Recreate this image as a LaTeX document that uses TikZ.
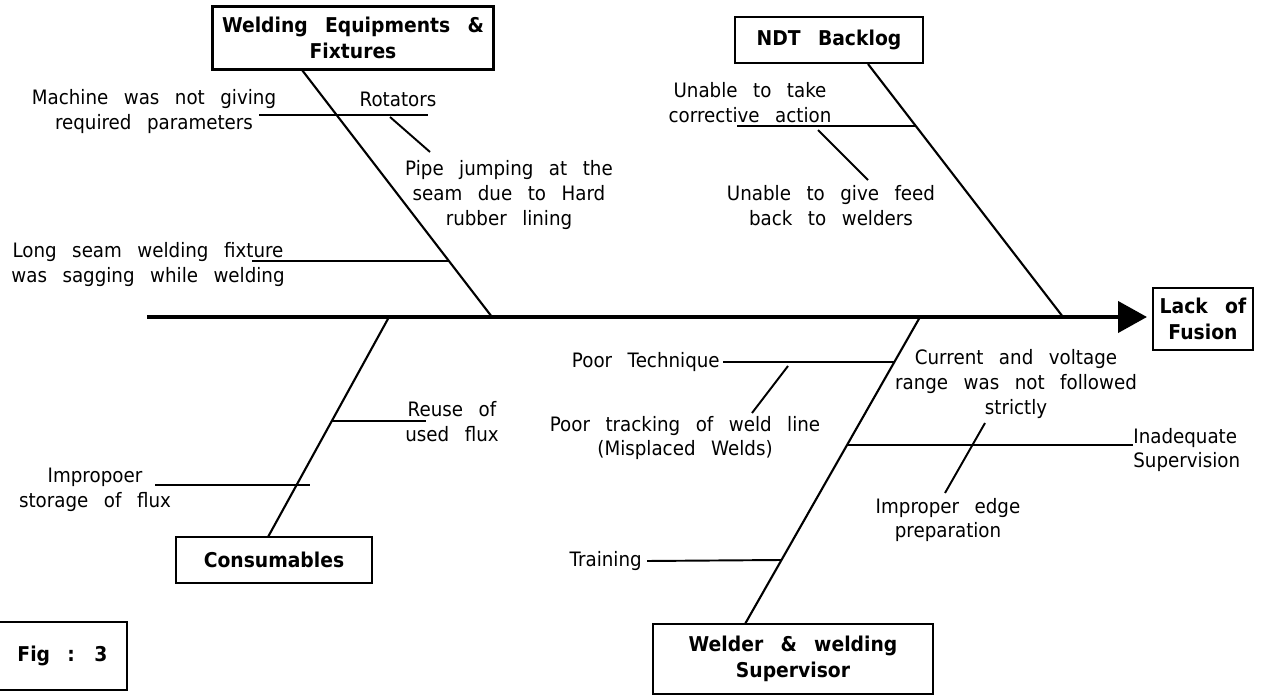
\documentclass[tikz,border=0pt]{standalone}
\usepackage{fontspec}
\setmainfont[FakeStretch=0.92]{DejaVu Sans}
\usetikzlibrary{arrows.meta}
\newcommand{\widesp}{\spaceskip0.78em\relax}
\newcommand{\boldsp}{\spaceskip0.85em\relax}

\begin{document}
\begin{tikzpicture}[
  x=0.02cm, y=-0.02cm,
  lbl/.style={
    font=\fontsize{11.3}{14.2}\selectfont\widesp,
    align=center,
    inner sep=0pt
  },
  cat/.style={
    draw,
    line width=1.3pt,
    font=\fontsize{11.6}{14.6}\selectfont\bfseries\boldsp,
    align=center,
    inner sep=0pt
  },
  spine/.style={line width=2.4pt,-{Triangle[length=0.58cm,width=0.62cm]}},
  bone/.style={line width=1.2pt},
  twig/.style={line width=1.1pt}
]
\useasboundingbox (0,0) rectangle (1271,695);

\node[cat,minimum width=5.62cm,minimum height=1.26cm] (wef) at (353,38)
{Welding Equipments \&\\Fixtures};
\node[cat,minimum width=3.76cm,minimum height=0.92cm] (ndt) at (829,40) {NDT Backlog};
\node[cat,minimum width=2cm,minimum height=1.24cm] (lof) at (1203,319) {Lack of\\Fusion};
\node[cat,minimum width=3.92cm,minimum height=0.92cm] (con) at (274,560) {Consumables};
\node[cat,minimum width=5.6cm,minimum height=1.4cm] (wws) at (793,659)
{Welder \& welding\\Supervisor};
\node[cat,minimum width=3.48cm,minimum height=1.36cm] (fig) at (40,656)
{\hspace*{0.9cm}Fig : 3};

\node[lbl] (mach) at (154,112) {Machine was not giving\\required parameters};
\node[lbl] (rot) at (398,99) {Rotators};
\node[lbl] (pipe) at (509,195) {Pipe jumping at the\\seam due to Hard\\rubber lining};
\node[lbl] (seam) at (148,265) {Long seam welding fixture\\was sagging while welding};
\node[lbl] (unt) at (750,103) {Unable to take\\corrective action};
\node[lbl] (ugf) at (831,206) {Unable to give feed\\back to welders};
\node[lbl,anchor=east] (pt) at (720,362) {Poor Technique};
\node[lbl] (ptr) at (685,438) {Poor tracking of weld line\\(Misplaced Welds)};
\node[lbl] (cvr) at (1016,384) {Current and voltage\\range was not followed\\strictly};
\node[lbl,anchor=west,align=left] (inad) at (1133,450) {Inadequate\\Supervision};
\node[lbl] (ied) at (948,520) {Improper edge\\preparation};
\node[lbl,anchor=east] (trn) at (642,561) {Training};
\node[lbl] (reuse) at (452,422) {Reuse of\\used flux};
\node[lbl] (imp) at (95,490) {Impropoer\\storage of flux};

% spine and main bones
\coordinate (tail) at (147,317);
\coordinate (head) at (1147,317);
\coordinate (j1) at (492,317);
\coordinate (j2) at (1063,317);
\coordinate (j3) at (389,317);
\coordinate (j4) at (920,317);
\coordinate (r1) at (302,70);
\coordinate (r2) at (868,64);
\coordinate (r3) at (268,537);
\coordinate (r4) at (745,624);

\draw[spine] (tail) -- (head);
\draw[bone] (r1) -- (j1);
\draw[bone] (r2) -- (j2);
\draw[bone] (j3) -- (r3);
\draw[bone] (j4) -- (r4);

% causes on the bones
\coordinate (m1) at (259,115);
\coordinate (m2) at (428,115);
\coordinate (ro1) at (390,117);
\coordinate (ro2) at (430,152);
\coordinate (s1) at (252,261);
\coordinate (s2) at (449,261);
\coordinate (u1) at (737,126);
\coordinate (u2) at (915,126);
\coordinate (g1) at (818,130);
\coordinate (g2) at (868,180);
\coordinate (re1) at (332,421);
\coordinate (re2) at (426,421);
\coordinate (i1) at (155,485);
\coordinate (i2) at (310,485);
\coordinate (p1) at (894,362);
\coordinate (t1) at (788,366);
\coordinate (t2) at (752,413);
\coordinate (a1) at (847,445);
\coordinate (e1) at (985,423);
\coordinate (e2) at (945,493);
\coordinate (w1) at (781,560);

\draw[twig] (m1) -- (m2);
\draw[twig] (ro1) -- (ro2);
\draw[twig] (s1) -- (s2);
\draw[twig] (u1) -- (u2);
\draw[twig] (g1) -- (g2);
\draw[twig] (re1) -- (re2);
\draw[twig] (i1) -- (i2);
\draw[twig] ([xshift=0.06cm]pt.east) -- (p1);
\draw[twig] (t1) -- (t2);
\draw[twig] (a1) -- (a1 -| inad.west);
\draw[twig] (e1) -- (e2);
\draw[twig] ([xshift=0.1cm]trn.east) -- (w1);

\end{tikzpicture}
\end{document}
